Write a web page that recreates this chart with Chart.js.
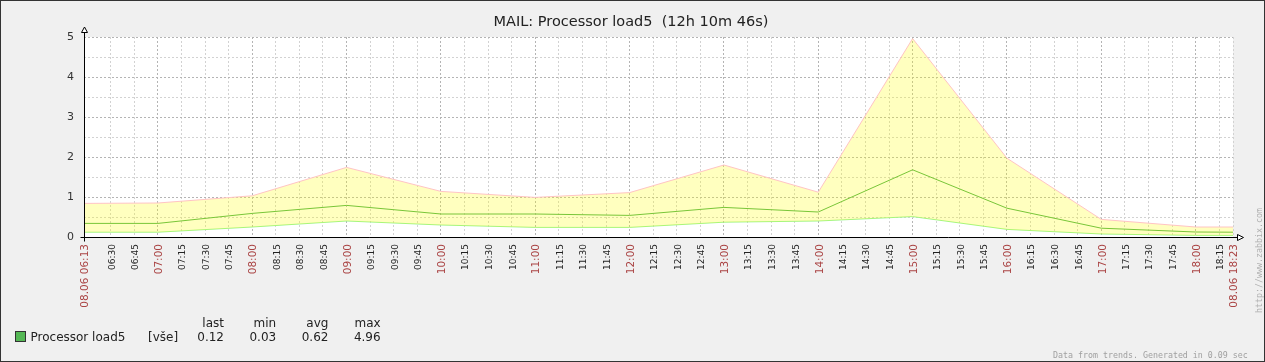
<!DOCTYPE html>
<html>
<head>
<meta charset="utf-8">
<title>MAIL: Processor load5</title>
<script src="https://cdn.jsdelivr.net/npm/chart.js@4.4.1/dist/chart.umd.min.js"></script>
<style>
body { margin: 0; background: #f0f0f0; }
canvas { display: block; }
</style>
</head>
<body>
<canvas id="graph" width="1265" height="362"></canvas>
<script>
// trend points (hourly), first/last = edges of the period
var times = ['06:13', '07:00', '08:00', '09:00', '10:00', '11:00', '12:00', '13:00',
             '14:00', '15:00', '16:00', '17:00', '18:00', '18:23:46'];
var maxValues = [0.84, 0.85, 1.03, 1.74, 1.14, 0.99, 1.11, 1.80, 1.12, 4.96, 1.97, 0.44, 0.25, 0.25];
var avgValues = [0.34, 0.34, 0.59, 0.79, 0.575, 0.575, 0.54, 0.74, 0.625, 1.68, 0.72, 0.22, 0.125, 0.12];
var minValues = [0.12, 0.12, 0.25, 0.40, 0.30, 0.24, 0.24, 0.37, 0.40, 0.51, 0.19, 0.075, 0.04, 0.04];

var dateLabel = '08.06';
var title = 'MAIL: Processor load5  (12h 10m 46s)';
var itemName = 'Processor load5';
var statNames = ['last', 'min', 'avg', 'max'];
var statValues = ['0.12', '0.03', '0.62', '4.96'];

function toMin(t) {
    var p = t.split(':');
    return +p[0] * 60 + +p[1] + (p[2] ? +p[2] / 60 : 0);
}
function pad(n) { return (n < 10 ? '0' : '') + n; }
function hhmm(m) { m = Math.floor(m); return pad(Math.floor(m / 60)) + ':' + pad(m % 60); }

var startMin = toMin(times[0]);
var endMin = toMin(times[times.length - 1]);

function points(values) {
    return values.map(function (v, i) { return { x: toMin(times[i]), y: v }; });
}

// x ticks: period edges + every 15 minutes (not too close to the edges)
var xTicks = [startMin];
for (var m = Math.ceil(startMin / 15) * 15; m < endMin; m += 15) {
    if (m - startMin > 6 && endMin - m > 6) xTicks.push(m);
}
xTicks.push(endMin);

function isEdge(v) { return v === startMin || v === endMin; }
function isHour(v) { return v % 60 === 0; }

var decorations = {
    id: 'decorations',
    beforeDraw: function (chart) {
        var ctx = chart.ctx, a = chart.chartArea;
        ctx.save();
        ctx.fillStyle = '#f0f0f0';
        ctx.fillRect(0, 0, chart.width, chart.height);
        ctx.fillStyle = '#ffffff';
        ctx.fillRect(a.left, a.top, a.right - a.left, a.bottom - a.top);
        ctx.restore();
    },
    afterDraw: function (chart) {
        var ctx = chart.ctx, a = chart.chartArea;
        var x0 = a.left + 0.5, y0 = a.bottom + 0.5;
        ctx.save();
        // axes
        ctx.strokeStyle = '#000';
        ctx.lineWidth = 1;
        ctx.beginPath();
        ctx.moveTo(x0, y0 + 4);
        ctx.lineTo(x0, a.top - 5);
        ctx.moveTo(x0 - 4, y0);
        ctx.lineTo(a.right + 5, y0);
        ctx.stroke();
        // arrows
        ctx.fillStyle = '#fff';
        ctx.beginPath();
        ctx.moveTo(x0, a.top - 10);
        ctx.lineTo(x0 - 3, a.top - 4.5);
        ctx.lineTo(x0 + 3, a.top - 4.5);
        ctx.closePath();
        ctx.fill(); ctx.stroke();
        ctx.beginPath();
        ctx.moveTo(a.right + 10.5, y0);
        ctx.lineTo(a.right + 4.5, y0 - 3);
        ctx.lineTo(a.right + 4.5, y0 + 3);
        ctx.closePath();
        ctx.fill(); ctx.stroke();

        // title
        ctx.fillStyle = '#222';
        ctx.font = '14.5px "DejaVu Sans"';
        ctx.textAlign = 'center';
        ctx.textBaseline = 'alphabetic';
        ctx.fillText(title, 631, 25.5);

        // legend
        ctx.fillStyle = '#55b855';
        ctx.fillRect(15.5, 331.5, 10, 10);
        ctx.strokeStyle = '#333';
        ctx.strokeRect(15.5, 331.5, 10, 10);
        ctx.fillStyle = '#222';
        ctx.font = '12px "DejaVu Sans"';
        ctx.textAlign = 'left';
        ctx.fillText(itemName, 30.5, 340.5);
        ctx.fillText('[vše]', 148, 340.5);
        ctx.textAlign = 'right';
        for (var i = 0; i < statNames.length; i++) {
            var rx = 224 + i * 52.2;
            ctx.fillText(statNames[i], rx, 326.5);
            ctx.fillText(statValues[i], rx, 340.5);
        }

        // footer + watermark
        ctx.fillStyle = '#a0a0a0';
        ctx.font = '8.3px "DejaVu Sans Mono"';
        ctx.textAlign = 'left';
        ctx.fillText('Data from trends. Generated in 0.09 sec', 1053, 357.5);
        ctx.save();
        ctx.translate(1262, 313);
        ctx.rotate(-Math.PI / 2);
        ctx.fillStyle = '#b0b0b0';
        ctx.fillText('http://www.zabbix.com', 0, 0);
        ctx.restore();

        // frame
        ctx.strokeStyle = '#333';
        ctx.strokeRect(0.5, 0.5, chart.width - 1, chart.height - 1);
        ctx.restore();
    }
};

var ctx = document.getElementById('graph').getContext('2d');
var chart = new Chart(ctx, {
    type: 'line',
    data: {
        datasets: [{
            label: 'max',
            data: points(maxValues),
            borderColor: '#ffc4c4',
            backgroundColor: 'rgba(255, 255, 0, 0.25)',
            fill: 2,
            borderWidth: 1,
            pointRadius: 0,
            tension: 0
        }, {
            label: 'avg',
            data: points(avgValues),
            borderColor: '#4cb34c',
            fill: false,
            borderWidth: 1,
            pointRadius: 0,
            tension: 0
        }, {
            label: 'min',
            data: points(minValues),
            borderColor: '#9cf58c',
            fill: false,
            borderWidth: 1,
            pointRadius: 0,
            tension: 0
        }]
    },
    options: {
        responsive: false,
        animation: false,
        devicePixelRatio: 1,
        layout: { padding: { top: 37, right: 32, left: 0, bottom: 0 } },
        plugins: {
            legend: { display: false },
            title: { display: false },
            tooltip: { enabled: false }
        },
        scales: {
            x: {
                type: 'linear',
                min: startMin,
                max: endMin,
                afterBuildTicks: function (scale) {
                    scale.ticks = xTicks.map(function (v) { return { value: v }; });
                },
                afterFit: function (scale) { scale.height = 125; },
                border: { display: false, dash: [2, 2] },
                grid: {
                    drawTicks: false,
                    color: function (c) {
                        var v = c.tick ? c.tick.value : 0;
                        if (v === startMin) return 'rgba(0,0,0,0)';
                        return isHour(v) ? '#b4b4b4' : '#d2d2d2';
                    }
                },
                ticks: {
                    autoSkip: false,
                    minRotation: 90,
                    maxRotation: 90,
                    padding: 7,
                    labelOffset: 1.5,
                    color: function (c) {
                        var v = c.tick.value;
                        return (isEdge(v) || isHour(v)) ? '#aa4444' : '#222';
                    },
                    font: function (c) {
                        var v = c.tick ? c.tick.value : 0;
                        return { family: 'DejaVu Sans', size: (isEdge(v) || isHour(v)) ? 10.5 : 9 };
                    },
                    callback: function (v) {
                        if (isEdge(v)) return dateLabel + ' ' + hhmm(v);
                        return hhmm(v);
                    }
                }
            },
            y: {
                min: 0,
                max: 5,
                afterFit: function (scale) { scale.width = 84; },
                border: { display: false, dash: [2, 2] },
                grid: {
                    drawTicks: false,
                    color: function (c) {
                        var v = c.tick ? c.tick.value : 0;
                        if (v === 0) return 'rgba(0,0,0,0)';
                        return v % 1 === 0 ? '#b4b4b4' : '#d2d2d2';
                    }
                },
                ticks: {
                    stepSize: 0.5,
                    padding: 10,
                    color: '#333',
                    font: { family: 'DejaVu Sans', size: 11 },
                    callback: function (v) { return v % 1 === 0 ? String(v) : ''; }
                }
            }
        }
    },
    plugins: [decorations]
});
</script>
</body>
</html>
